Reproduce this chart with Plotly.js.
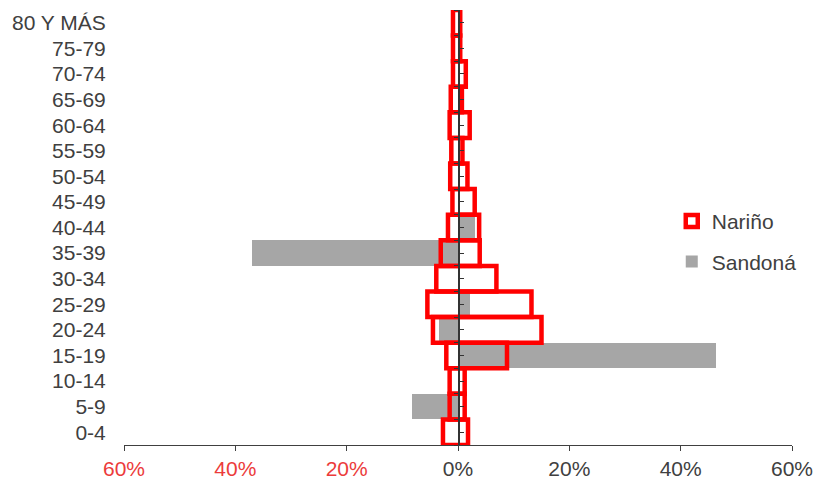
<!DOCTYPE html>
<html>
<head>
<meta charset="utf-8">
<script src="https://cdn.plot.ly/plotly-3.0.1.min.js"></script>
<style>html,body{margin:0;padding:0;background:#fff;}#chart{width:815px;height:479px;}</style>
</head>
<body>
<div id="chart"></div>
<script>
// Age groups (bottom to top)
const categories = ['0-4','5-9','10-14','15-19','20-24','25-29','30-34','35-39','40-44','45-49','50-54','55-59','60-64','65-69','70-74','75-79','80 Y MÁS'];

// Nariño: % on the left side (hombres) and on the right side (mujeres)
const narinoHombres = [2.7, 1.5, 1.5, 2.1, 4.5, 5.5, 3.9, 3.1, 1.8, 1.0, 1.4, 1.2, 1.5, 1.3, 0.9, 0.9, 0.9];
const narinoMujeres = [1.8, 1.2, 1.2, 8.8, 15.0, 13.2, 6.9, 3.9, 3.8, 3.0, 1.7, 0.8, 2.1, 0.7, 1.4, 0.4, 0.4];

// Sandoná: % on the left side (hombres) and on the right side (mujeres)
const sandonaHombres = [0, 8.2, 0, 0, 3.4, 0, 0, 37.0, 0, 0, 0, 0, 0, 0, 0, 0, 0];
const sandonaMujeres = [0, 0, 0, 46.3, 0, 2.2, 0, 0, 3.0, 0, 0, 0, 0, 0, 0, 0, 0];

// X axis ticks
const xTickVals = [-60, -40, -20, 0, 20, 40, 60];
const xTickText = ['60%', '40%', '20%', '0%', '20%', '40%', '60%'];

const RED = '#ff0000';
const GRAY = '#a6a6a6';
const FONT = 'Liberation Sans, Arial, sans-serif';

const traces = [
  {
    type: 'bar', orientation: 'h', name: 'Sandoná', legendgroup: 'b', legendrank: 2,
    y: categories, x: sandonaHombres.map(v => -v),
    marker: {color: GRAY, line: {width: 0}},
    showlegend: true, hoverinfo: 'skip'
  },
  {
    type: 'bar', orientation: 'h', name: 'Sandoná', legendgroup: 'b', legendrank: 2,
    y: categories, x: sandonaMujeres,
    marker: {color: GRAY, line: {width: 0}},
    showlegend: false, hoverinfo: 'skip'
  },
  {
    type: 'bar', orientation: 'h', name: 'Nariño', legendgroup: 'a', legendrank: 1,
    y: categories,
    base: narinoHombres.map(v => -v),
    x: narinoHombres.map((v, i) => v + narinoMujeres[i]),
    marker: {color: 'rgba(255,255,255,0)', line: {color: RED, width: 4.5}},
    hoverinfo: 'skip'
  },
  // empty helpers so the centre axes (yaxis2 / yaxis3) get drawn
  {type: 'scatter', mode: 'markers', x: [null], y: [null], yaxis: 'y2', showlegend: false, hoverinfo: 'skip'},
  {type: 'scatter', mode: 'markers', x: [null], y: [null], yaxis: 'y3', showlegend: false, hoverinfo: 'skip'}
];

const tickTextStyled = xTickText.map((t, i) =>
  xTickVals[i] < 0 ? '<span style="color:#ec3b3b">' + t + '</span>' : t);

const layout = {
  width: 815, height: 479,
  margin: {l: 124, r: 23, t: 10, b: 34},
  paper_bgcolor: '#fff', plot_bgcolor: '#fff',
  font: {family: FONT, size: 21, color: '#404040'},
  barmode: 'overlay', bargap: 0,
  xaxis: {
    range: [-60, 60], tickvals: xTickVals, ticktext: tickTextStyled,
    showgrid: false, zeroline: false, automargin: false,
    showline: true, linecolor: '#404040', linewidth: 1,
    ticks: 'outside', ticklen: 5, tickcolor: '#404040',
    tickfont: {family: FONT, size: 21, color: '#404040'},
    fixedrange: true
  },
  yaxis: {
    type: 'category', categoryorder: 'array', categoryarray: categories,
    range: [-0.5, categories.length - 0.5], automargin: false,
    showgrid: false, zeroline: false, showline: false,
    ticks: 'outside', ticklen: 13, tickcolor: 'rgba(0,0,0,0)',
    tickfont: {family: FONT, size: 21, color: '#404040'},
    fixedrange: true
  },
  yaxis2: {
    overlaying: 'y', anchor: 'free', position: 0.5, side: 'left',
    range: [-0.5, categories.length - 0.5], automargin: false,
    tickvals: categories.map((c, i) => i),
    showticklabels: false, showgrid: false, zeroline: false,
    showline: true, linecolor: '#333333', linewidth: 1.5,
    ticks: 'inside', ticklen: 4, tickcolor: '#333333',
    fixedrange: true
  },
  yaxis3: {
    overlaying: 'y', anchor: 'free', position: 0.5, side: 'left',
    range: [-0.5, categories.length - 0.5], automargin: false,
    tickvals: categories.map((c, i) => i - 0.5).concat([categories.length - 0.5]),
    showticklabels: false, showgrid: false, zeroline: false, showline: false,
    ticks: 'outside', ticklen: 4, tickcolor: '#333333',
    fixedrange: true
  },
  legend: {
    x: 0.82, y: 0.561, xanchor: 'left', yanchor: 'top',
    traceorder: 'grouped', tracegroupgap: 10,
    font: {family: FONT, size: 21, color: '#404040'},
    bgcolor: 'rgba(0,0,0,0)', borderwidth: 0
  },
  showlegend: true
};

Plotly.newPlot('chart', traces, layout, {displayModeBar: false, staticPlot: true});
</script>
</body>
</html>
